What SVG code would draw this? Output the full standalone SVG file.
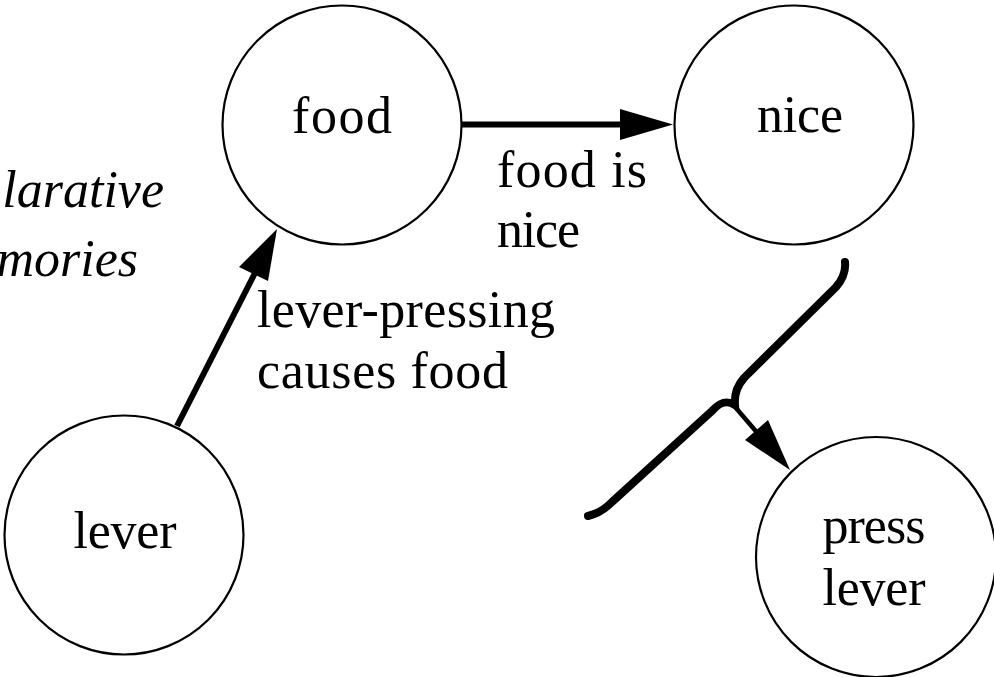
<svg xmlns="http://www.w3.org/2000/svg" width="994" height="677" viewBox="0 0 994 677">
<style>
.node circle{fill:#fff;stroke:#000;stroke-width:2.2}
text{font-family:"Liberation Serif","DejaVu Serif",serif;font-size:52px;fill:#000}
.c{text-anchor:middle}
.it{font-style:italic;text-anchor:end}
.edge{fill:none;stroke:#000}
</style>
<rect width="994" height="677" fill="#fff"/>
<g id="food" class="node"><circle cx="342" cy="125" r="119.5"/><text class="c" x="342" y="133" textLength="100">food</text></g>
<g id="nice" class="node"><circle cx="794" cy="125" r="119.5"/><text class="c" x="800" y="132" textLength="86">nice</text></g>
<g id="lever" class="node"><circle cx="124" cy="535" r="119.5"/><text class="c" x="125" y="548" textLength="103">lever</text></g>
<g id="press-lever" class="node"><circle cx="876" cy="557" r="120"/><text class="c" x="874" y="543" textLength="103">press</text><text class="c" x="874" y="605" textLength="103">lever</text></g>
<g id="labels">
<text x="497" y="187" textLength="150">food is</text>
<text x="497" y="247" textLength="83">nice</text>
<text x="257" y="327" textLength="298">lever-pressing</text>
<text x="257" y="388" textLength="251">causes food</text>
<text class="it" x="164" y="207">larative</text>
<text class="it" x="138" y="276">mories</text>
</g>
<g id="connectors">
<path class="edge" stroke-width="6" d="M462,124.5 L622,124.5"/>
<polygon points="673,124.5 620,109 620,140"/>
<path class="edge" stroke-width="6" d="M177,426 L256,271"/>
<polygon points="277,229 239,267 268,281"/>
<path class="edge" stroke-width="8" stroke-linecap="round" d="M845,262 C846,272 843,279 836,287 L744,378 C737,386 734,394 735,405 C727,400 720,402 712,411 L612,502 C604,510 597,514 588,516"/>
<path class="edge" stroke-width="4.5" d="M736,408 L760,436"/>
<polygon points="790,470 745,440 768,420"/>
</g>
</svg>
